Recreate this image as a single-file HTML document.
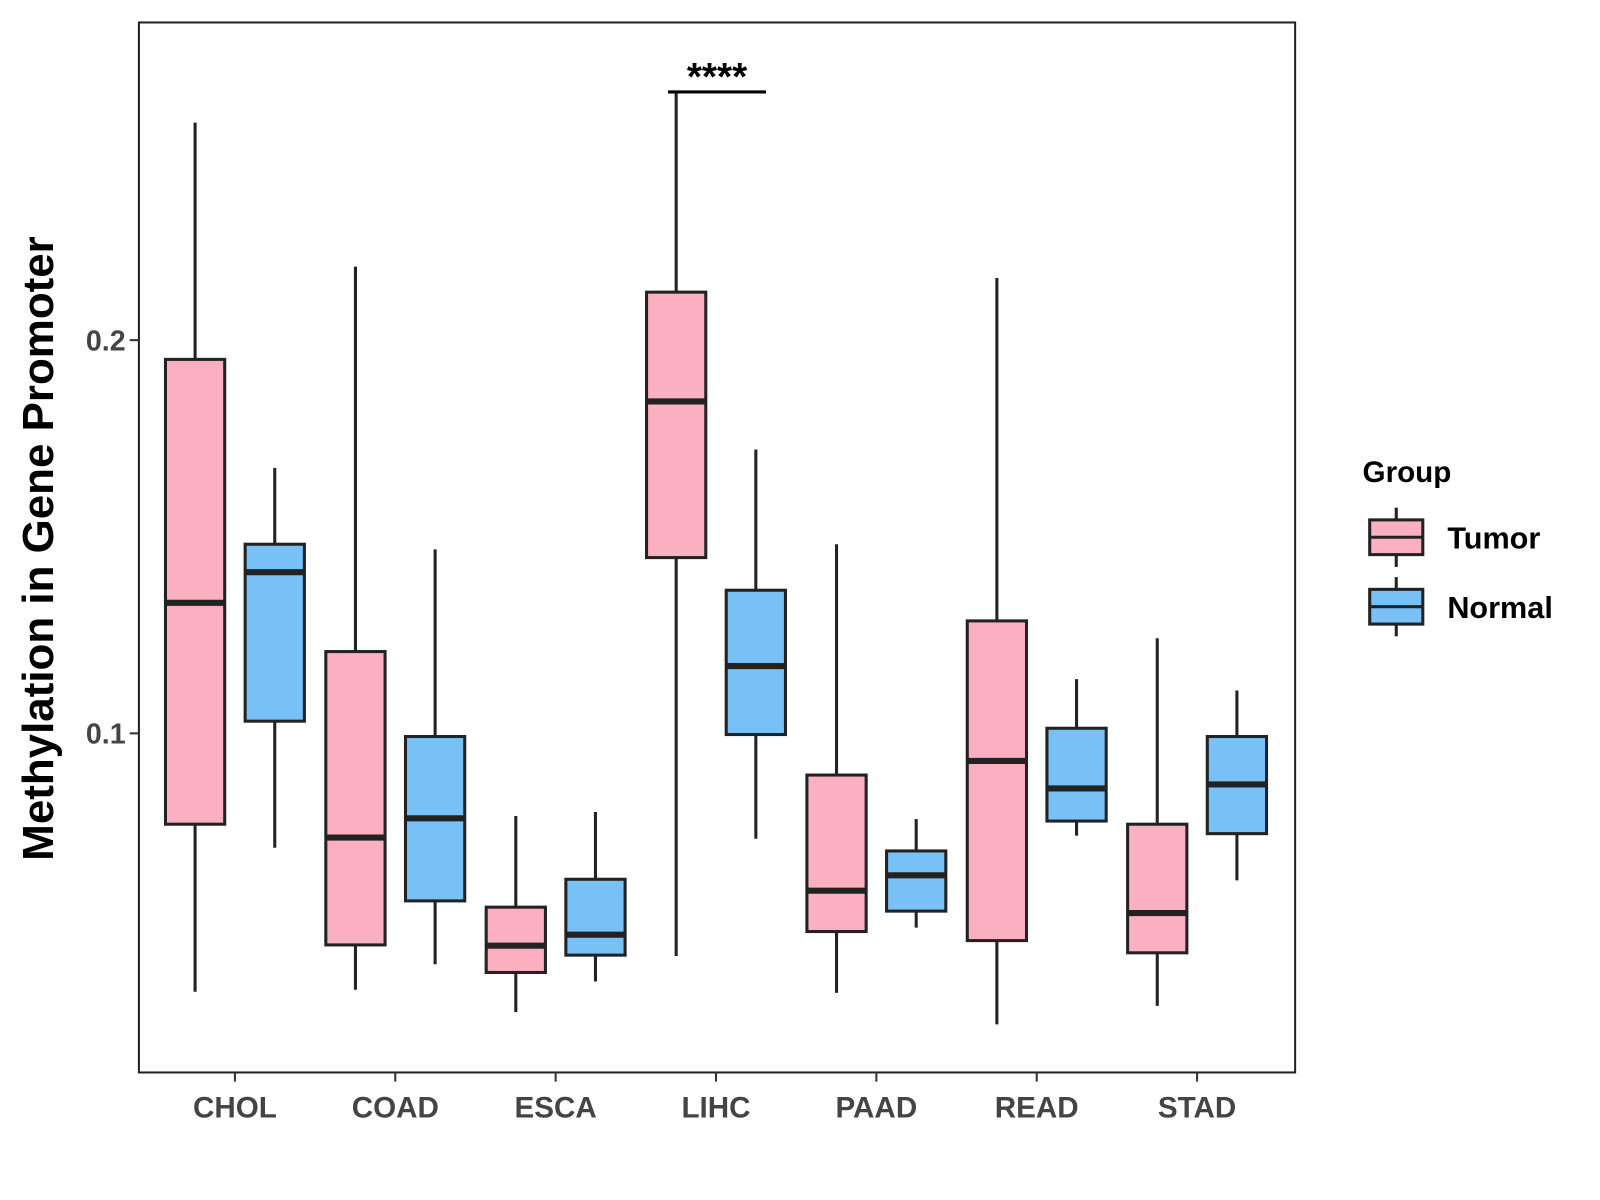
<!DOCTYPE html>
<html><head><meta charset="utf-8"><style>
html,body{margin:0;padding:0;background:#fff;}
svg{display:block;font-family:"Liberation Sans",Arial,sans-serif;}
</style></head><body>
<svg id="chart" width="1600" height="1200" viewBox="0 0 1600 1200">
<g transform="scale(1.0214)">
<rect x="136" y="22" width="1132" height="1028" fill="#fff" stroke="#222" stroke-width="2"/>
<g id="marks"></g>
<g id="axes"></g>
<text x="0" y="0" transform="translate(52,537) rotate(-90)" text-anchor="middle" font-size="43" font-weight="bold" fill="#000">Methylation in Gene Promoter</text>
<line x1="654" y1="90" x2="750" y2="90" stroke="#000" stroke-width="3"/>
<text x="702" y="88" text-anchor="middle" font-size="38" font-weight="bold" fill="#000">****</text>
<g>
<text x="1334" y="472" font-size="29" font-weight="bold" fill="#000">Group</text>
<g>
<line x1="1367" y1="497" x2="1367" y2="555" stroke="#222" stroke-width="3"/>
<rect x="1341" y="509" width="52" height="34" fill="#FBB0C2" stroke="#222" stroke-width="3"/>
<line x1="1341" y1="526" x2="1393" y2="526" stroke="#222" stroke-width="3"/>
<text x="1417" y="537" font-size="30" font-weight="bold" fill="#000">Tumor</text>
</g>
<g>
<line x1="1367" y1="565" x2="1367" y2="623" stroke="#222" stroke-width="3"/>
<rect x="1341" y="577" width="52" height="34" fill="#77C1F7" stroke="#222" stroke-width="3"/>
<line x1="1341" y1="594" x2="1393" y2="594" stroke="#222" stroke-width="3"/>
<text x="1417" y="605" font-size="30" font-weight="bold" fill="#000">Normal</text>
</g>
</g>
</g>
</svg>
<script>
const categories = ["CHOL","COAD","ESCA","LIHC","PAAD","READ","STAD"];
const tumorLow  = [0.0343,0.0348,0.0291,0.0434,0.0340,0.0260,0.0307];
const tumorQ1   = [0.0769,0.0462,0.0392,0.1447,0.0496,0.0473,0.0442];
const tumorMed  = [0.1332,0.0735,0.0460,0.1844,0.0600,0.0930,0.0543];
const tumorQ3   = [0.1951,0.1208,0.0558,0.2122,0.0894,0.1286,0.0769];
const tumorHigh = [0.2553,0.2187,0.0790,0.2631,0.1481,0.2158,0.1242];
const normalLow  = [0.0709,0.0413,0.0369,0.0732,0.0506,0.0740,0.0626];
const normalQ1   = [0.1031,0.0574,0.0436,0.0997,0.0548,0.0777,0.0745];
const normalMed  = [0.1410,0.0784,0.0488,0.1171,0.0639,0.0860,0.0870];
const normalQ3   = [0.1481,0.0992,0.0629,0.1364,0.0701,0.1013,0.0992];
const normalHigh = [0.1675,0.1468,0.0800,0.1722,0.0782,0.1138,0.1109];
const yTicks = [0.1,0.2];
const yTickLabels = ["0.1","0.2"];

const NS="http://www.w3.org/2000/svg";
function yScale(v){return 718-(v-0.1)*3850;}
function xScale(i){return 230+i*157;}
function mk(tag,attrs,parent){const e=document.createElementNS(NS,tag);for(const k in attrs)e.setAttribute(k,attrs[k]);parent.appendChild(e);return e;}
const marks=document.getElementById('marks'), axes=document.getElementById('axes');
function drawBox(cx,lo,q1,md,q3,hi,fill,name){
  const g=mk('g',{},marks);
  
  
  mk('line',{x1:cx,x2:cx,y1:yScale(hi),y2:yScale(lo),stroke:'#222','stroke-width':3},g);
  mk('rect',{x:cx-29,y:yScale(q3),width:58,height:yScale(q1)-yScale(q3),fill:fill,stroke:'#222','stroke-width':3},g);
  mk('line',{x1:cx-29,x2:cx+29,y1:yScale(md),y2:yScale(md),stroke:'#222','stroke-width':6},g);
}
categories.forEach((c,i)=>{
  const x=xScale(i);
  drawBox(x-39,tumorLow[i],tumorQ1[i],tumorMed[i],tumorQ3[i],tumorHigh[i],'#FBB0C2','box-tumor-'+c.toLowerCase());
  drawBox(x+39,normalLow[i],normalQ1[i],normalMed[i],normalQ3[i],normalHigh[i],'#77C1F7','box-normal-'+c.toLowerCase());
  const t=mk('line',{x1:x,x2:x,y1:1050,y2:1059,stroke:'#333','stroke-width':2},axes);
  
  
  const l=mk('text',{x:x,y:1094,'text-anchor':'middle','font-size':29,'font-weight':'bold',fill:'#444'},axes);
  l.textContent=c;
  
  
});
yTicks.forEach((v,i)=>{
  const y=yScale(v);
  const t=mk('line',{x1:127,x2:136,y1:y,y2:y,stroke:'#333','stroke-width':2},axes);
  
  
  const l=mk('text',{x:123,y:y+10,'text-anchor':'end','font-size':28,'font-weight':'bold',fill:'#444'},axes);
  l.textContent=yTickLabels[i];
  
  
});
</script>
</body></html>
